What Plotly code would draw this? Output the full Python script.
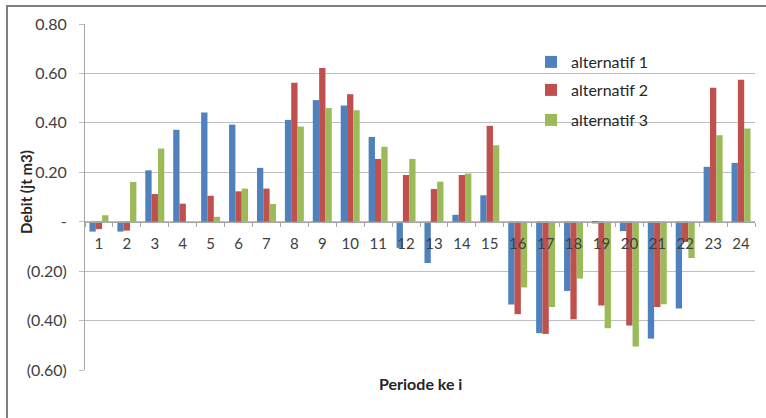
import plotly.graph_objects as go

periods = [str(i) for i in range(1, 25)]
alt1 = [-0.04, -0.04, 0.208, 0.372, 0.442, 0.393, 0.218, 0.412, 0.492, 0.470, 0.343, -0.106,
        -0.167, 0.028, 0.107, -0.335, -0.451, -0.280, -0.007, -0.038, -0.473, -0.351, 0.222, 0.238]
alt2 = [-0.03, -0.036, 0.112, 0.073, 0.105, 0.123, 0.134, 0.562, 0.622, 0.516, 0.254, 0.189,
        0.132, 0.189, 0.388, -0.374, -0.454, -0.395, -0.339, -0.420, -0.345, -0.082, 0.542, 0.574]
alt3 = [0.026, 0.161, 0.296, 0.0, 0.02, 0.134, 0.072, 0.385, 0.460, 0.451, 0.303, 0.254,
        0.162, 0.195, 0.309, -0.266, -0.345, -0.230, -0.431, -0.505, -0.334, -0.147, 0.350, 0.377]
series_names = ["alternatif 1", "alternatif 2", "alternatif 3"]
colors = ["#4F81BD", "#C0504D", "#9BBB59"]
y_tickvals = [0.8, 0.6, 0.4, 0.2, 0.0, -0.2, -0.4, -0.6]
y_ticktext = ["0.80", "0.60", "0.40", "0.20", "-", "(0.20)", "(0.40)", "(0.60)"]

FONT = "Lato, 'Open Sans', sans-serif"
W, H = 766, 418
L, R, T, B = 85, 11, 24, 48
pw, ph = W - L - R, H - T - B

def px(xp):
    return (xp - L) / pw

def py(yp):
    return (H - B - yp) / ph

fig = go.Figure()
legend_ys = [62, 90, 120]
for i, (name, vals, col) in enumerate(zip(series_names, [alt1, alt2, alt3], colors)):
    lg = "legend" if i == 0 else f"legend{i+1}"
    fig.add_trace(go.Bar(x=periods, y=vals, name=name, marker=dict(color=col, line=dict(width=0)),
                         legend=lg))

legend_common = dict(x=px(531), xanchor="left", yanchor="middle", bgcolor="rgba(0,0,0,0)",
                     font=dict(family=FONT, size=16, color="#262626"), borderwidth=0)
layout_legends = {}
for i, yv in enumerate(legend_ys):
    key = "legend" if i == 0 else f"legend{i+1}"
    layout_legends[key] = dict(legend_common, y=py(yv))

zero_pos = (0 - (-0.6)) / (0.8 - (-0.6))

fig.update_layout(
    width=W, height=H,
    margin=dict(l=L, r=R, t=T, b=B),
    paper_bgcolor="white", plot_bgcolor="white",
    barmode="group", bargap=0.32, bargroupgap=0.0,
    showlegend=True,
    **layout_legends,
    xaxis=dict(type="category", anchor="free", position=zero_pos, showline=True, linecolor="#a6a6a6",
               linewidth=1, ticks="outside", ticklen=4, tickcolor="#a6a6a6", tickson="boundaries",
               showgrid=False, zeroline=False, ticklabelstandoff=8,
               tickfont=dict(family=FONT, size=15, color="#404040")),
    yaxis=dict(range=[-0.6, 0.8], tickvals=y_tickvals, ticktext=y_ticktext, showgrid=True,
               gridcolor="#bfbfbf", gridwidth=1, zeroline=False, showline=True, linecolor="#a6a6a6",
               ticks="outside", ticklen=5, tickcolor="#bfbfbf", ticklabelstandoff=9,
               tickfont=dict(family=FONT, size=16, color="#404040")),
    annotations=[
        dict(text="<b>Periode ke i</b>", xref="paper", yref="paper", x=0.5, y=py(383),
             xanchor="center", yanchor="middle", showarrow=False,
             font=dict(family=FONT, size=16, color="#262626")),
        dict(text="<b>Debit (jt m3)</b>", xref="paper", yref="paper", x=px(26), y=py(192),
             xanchor="center", yanchor="middle", textangle=-90, showarrow=False,
             font=dict(family=FONT, size=15, color="#262626")),
    ],
    shapes=[
        dict(type="rect", xref="paper", yref="paper", x0=px(7), x1=px(775), y0=py(430), y1=py(6),
             line=dict(color="#7f7f7f", width=2), fillcolor="rgba(0,0,0,0)", layer="below"),
    ],
)

fig.write_html("out.html")
